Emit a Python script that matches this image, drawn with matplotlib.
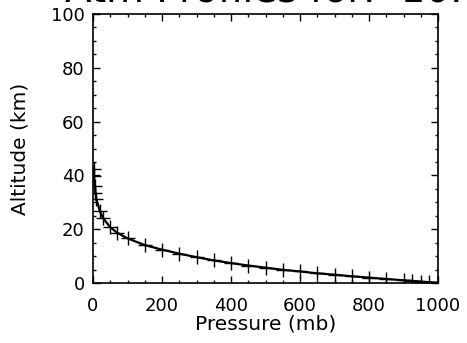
import matplotlib
matplotlib.use('Agg')
import matplotlib.pyplot as plt
from matplotlib.ticker import MultipleLocator

# pressure levels (mb) and altitude (km)
pressure = [1000, 975, 950, 925, 900, 850, 800, 750, 700, 650, 600, 550, 500,
            450, 400, 350, 300, 250, 200, 150, 100, 70, 50, 30, 20, 10, 7, 5, 3, 2]
altitude = [0.1, 0.3, 0.55, 0.8, 1.0, 1.5, 2.0, 2.5, 3.1, 3.6, 4.3, 4.9, 5.7,
            6.5, 7.4, 8.4, 9.6, 10.9, 12.4, 14.1, 16.6, 18.7, 20.7, 24.0, 26.6,
            31.1, 33.6, 36.0, 39.6, 42.5]

x_ticks = [0, 200, 400, 600, 800, 1000]
y_ticks = [0, 20, 40, 60, 80, 100]
title = 'Atm Profiles for:  10.0N  0.0E'

W, H = 467, 343
fig = plt.figure(figsize=(W / 100, H / 100), dpi=100)
# plot box in pixels: left 93, right 438, top 14, bottom 283
ax = fig.add_axes([93 / W, 1 - 283 / H, (438 - 93) / W, (283 - 14) / H])

ax.plot(pressure, altitude, color='black', lw=1.6, marker='+', ms=10, mew=1.0)

ax.set_xlim(0, 1000)
ax.set_ylim(0, 100)
ax.set_xticks(x_ticks)
ax.set_yticks(y_ticks)
ax.xaxis.set_minor_locator(MultipleLocator(50))
ax.yaxis.set_minor_locator(MultipleLocator(5))
ax.tick_params(which='both', direction='in', top=True, right=True,
               width=1.0, color='black', labelsize=13)
ax.tick_params(which='major', length=5)
ax.tick_params(which='minor', length=2.5)
ax.tick_params(axis='x', pad=10)
ax.tick_params(axis='y', pad=6)
for s in ax.spines.values():
    s.set_linewidth(1.2)

ax.set_xlabel('Pressure (mb)', fontsize=14.5, labelpad=0)
ax.set_ylabel('Altitude (km)', fontsize=14.5, labelpad=15)

# title sits mostly above the image edge, as in the original
fig.text(65 / W, 1 - 1.5 / H, title, fontsize=28, ha='left', va='baseline')

fig.savefig('out.png', dpi=100)
